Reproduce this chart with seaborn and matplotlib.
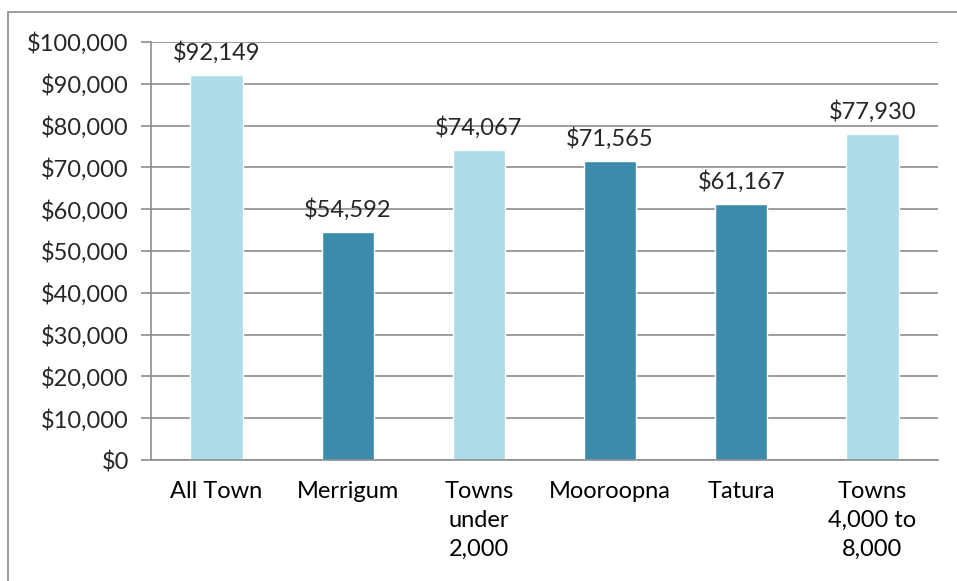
import numpy as np
import pandas as pd
import matplotlib
matplotlib.use("Agg")
import matplotlib.pyplot as plt
import seaborn as sns
from matplotlib.patches import Rectangle
from matplotlib.ticker import FuncFormatter, FixedLocator

towns = ["All Town", "Merrigum", "Towns\nunder\n2,000", "Mooroopna", "Tatura", "Towns\n4,000 to\n8,000"]
income = [92149, 54592, 74067, 71565, 61167, 77930]
group = ["light", "dark", "light", "dark", "dark", "light"]
colors = {"light": "#addce8", "dark": "#3d8baa"}

df = pd.DataFrame({"town": towns, "income": income, "group": group})

sns.set_style("white")
plt.rcParams["font.family"] = ["Lato", "DejaVu Sans"]

fig = plt.figure(figsize=(9.57, 5.81), dpi=100)
ax = fig.add_axes([151 / 957, 1 - 460 / 581, (938 - 151) / 957, (460 - 42) / 581])

# outer chart frame, runs off the right and bottom edge
fig.patches.append(Rectangle((8 / 957, -0.05), 1.0, 1 - 12 / 581 + 0.05,
                             transform=fig.transFigure, fill=False,
                             edgecolor="#8c8c8c", linewidth=1.2))

sns.barplot(data=df, x="town", y="income", hue="group", palette=colors,
            dodge=False, width=0.4, legend=False, ax=ax, saturation=1)

ax.set_ylim(0, 100000)
ax.set_xlim(-0.5, 5.5)
ax.yaxis.set_major_locator(FixedLocator(np.arange(0, 100001, 10000)))
ax.yaxis.set_major_formatter(FuncFormatter(lambda v, p: "${:,.0f}".format(v)))
ax.grid(axis="y", color="#8c8c8c", linewidth=1.2)
ax.set_axisbelow(True)

for s in ["top", "right"]:
    ax.spines[s].set_visible(False)
for s in ["left", "bottom"]:
    ax.spines[s].set_color("#8c8c8c")
    ax.spines[s].set_linewidth(1.2)

ax.set_xticks(np.arange(-0.5, 6, 1), minor=True)
ax.tick_params(axis="x", which="minor", length=7, color="#8c8c8c", width=1.2, direction="out")
ax.tick_params(axis="x", which="major", length=0, pad=15, labelsize=17)
ax.tick_params(axis="y", which="major", length=7, color="#8c8c8c", width=1.2,
               direction="out", left=True, labelsize=17, pad=9)
ax.tick_params(axis="x", colors="#8c8c8c", labelcolor="black")
for lab in ax.get_xticklabels():
    lab.set_linespacing(1.47)
    lab.set_verticalalignment("top")

for i, v in enumerate(income):
    ax.annotate("${:,.0f}".format(v), (i, v), xytext=(0, 8), textcoords="offset points",
                ha="center", va="bottom", fontsize=17)

ax.set_xlabel("")
ax.set_ylabel("")

plt.savefig("out.png", dpi=100)
